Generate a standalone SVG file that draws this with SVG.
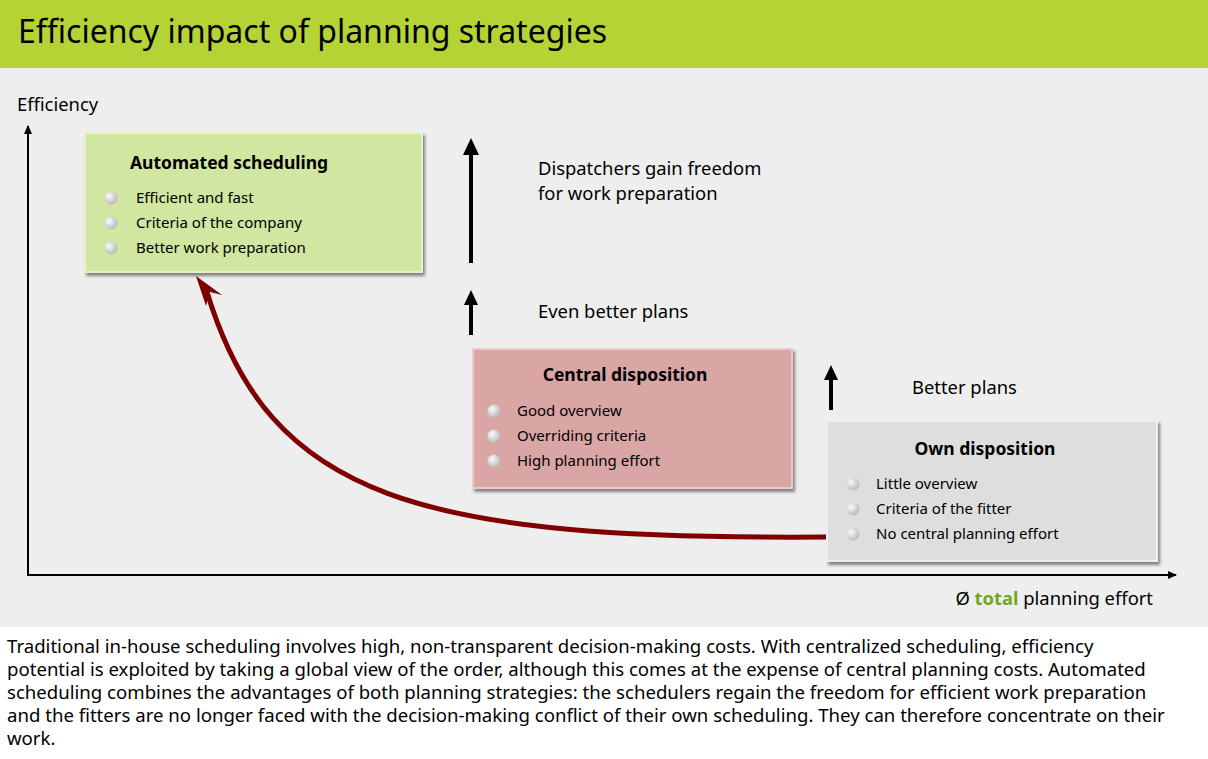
<svg xmlns="http://www.w3.org/2000/svg" width="1208" height="759" viewBox="0 0 1208 759">
<defs>
<style>
text{font-family:"Noto Sans","Open Sans",sans-serif;fill:#000}
.t{font-size:17.5px;font-weight:bold}
.i{font-size:15px}
.l{font-size:18.4px}
</style>
<radialGradient id="dot" cx="0.35" cy="0.35" r="0.7"><stop offset="0" stop-color="#fafafa"/><stop offset="1" stop-color="#b8b8b8"/></radialGradient>
<filter id="sh" x="-5%" y="-5%" width="115%" height="120%"><feDropShadow dx="2" dy="3" stdDeviation="1.5" flood-opacity="0.45"/></filter>
<marker id="ax" markerWidth="10" markerHeight="10" refX="8" refY="5" orient="auto" markerUnits="userSpaceOnUse"><path d="M0,1 L9,5 L0,9 Z" fill="#000"/></marker>
</defs>
<rect width="1208" height="759" fill="#fff"/>
<rect width="1208" height="68" fill="#b5d334"/>
<text x="18" y="43" style="font-size:32px">Efficiency impact of planning strategies</text>
<rect y="68" width="1208" height="559" fill="#eeeeee"/>
<text x="17" y="111" class="l">Efficiency</text>
<text x="1153" y="605" class="l" text-anchor="end">Ø <tspan style="fill:#76a520;font-weight:bold">total</tspan> planning effort</text>
<g id="connectors">
<line x1="28" y1="575" x2="28" y2="126" stroke="#000" stroke-width="2" marker-end="url(#ax)"/>
<line x1="27" y1="575" x2="1176" y2="575" stroke="#000" stroke-width="2" marker-end="url(#ax)"/>
<line x1="471" y1="263" x2="471" y2="142" stroke="#000" stroke-width="4"/>
<path d="M463,155 L471,138 L479,155 Z"/>
<line x1="471" y1="335" x2="471" y2="295" stroke="#000" stroke-width="4"/>
<path d="M464,305 L471,290 L478,305 Z"/>
<line x1="831" y1="410" x2="831" y2="370" stroke="#000" stroke-width="4"/>
<path d="M824,380 L831,365 L838,380 Z"/>
<path d="M828,537 C420,540 270,500 207,292" fill="none" stroke="#7f0000" stroke-width="5"/>
<path d="M196,276 L222,295 L210,292 L206,306 Z" fill="#7f0000"/>
</g>
<text x="538" y="175" class="l">Dispatchers gain freedom</text>
<text x="538" y="200" class="l">for work preparation</text>
<text x="538" y="318" class="l">Even better plans</text>
<text x="912" y="394" class="l">Better plans</text>
<g id="automated">
<rect x="85" y="133" width="337" height="139" fill="#d0e6a1" stroke="#e6f2c8" stroke-width="2" filter="url(#sh)"/>
<text x="130" y="169" class="t">Automated scheduling</text>
<circle cx="111" cy="198" r="6.5" fill="url(#dot)"/><text x="136" y="203" class="i">Efficient and fast</text>
<circle cx="111" cy="223" r="6.5" fill="url(#dot)"/><text x="136" y="228" class="i">Criteria of the company</text>
<circle cx="111" cy="248" r="6.5" fill="url(#dot)"/><text x="136" y="253" class="i">Better work preparation</text>
</g>
<g id="central">
<rect x="473" y="349" width="319" height="139" fill="#d9a5a5" stroke="#ecc8c8" stroke-width="2" filter="url(#sh)"/>
<text x="625" y="381" class="t" text-anchor="middle">Central disposition</text>
<circle cx="494" cy="411" r="6.5" fill="url(#dot)"/><text x="517" y="416" class="i">Good overview</text>
<circle cx="494" cy="436" r="6.5" fill="url(#dot)"/><text x="517" y="441" class="i">Overriding criteria</text>
<circle cx="494" cy="461" r="6.5" fill="url(#dot)"/><text x="517" y="466" class="i">High planning effort</text>
</g>
<g id="own">
<rect x="827" y="421" width="330" height="140" fill="#dedede" stroke="#eeeeee" stroke-width="2" filter="url(#sh)"/>
<text x="985" y="455" class="t" text-anchor="middle">Own disposition</text>
<circle cx="853" cy="484" r="6.5" fill="url(#dot)"/><text x="876" y="489" class="i">Little overview</text>
<circle cx="853" cy="509" r="6.5" fill="url(#dot)"/><text x="876" y="514" class="i">Criteria of the fitter</text>
<circle cx="853" cy="534" r="6.5" fill="url(#dot)"/><text x="876" y="539" class="i">No central planning effort</text>
</g>
<g style="font-size:18.6px">
<text x="7" y="653">Traditional in-house scheduling involves high, non-transparent decision-making costs. With centralized scheduling, efficiency</text>
<text x="7" y="676">potential is exploited by taking a global view of the order, although this comes at the expense of central planning costs. Automated</text>
<text x="7" y="699">scheduling combines the advantages of both planning strategies: the schedulers regain the freedom for efficient work preparation</text>
<text x="7" y="722">and the fitters are no longer faced with the decision-making conflict of their own scheduling. They can therefore concentrate on their</text>
<text x="7" y="745">work.</text>
</g>
</svg>
